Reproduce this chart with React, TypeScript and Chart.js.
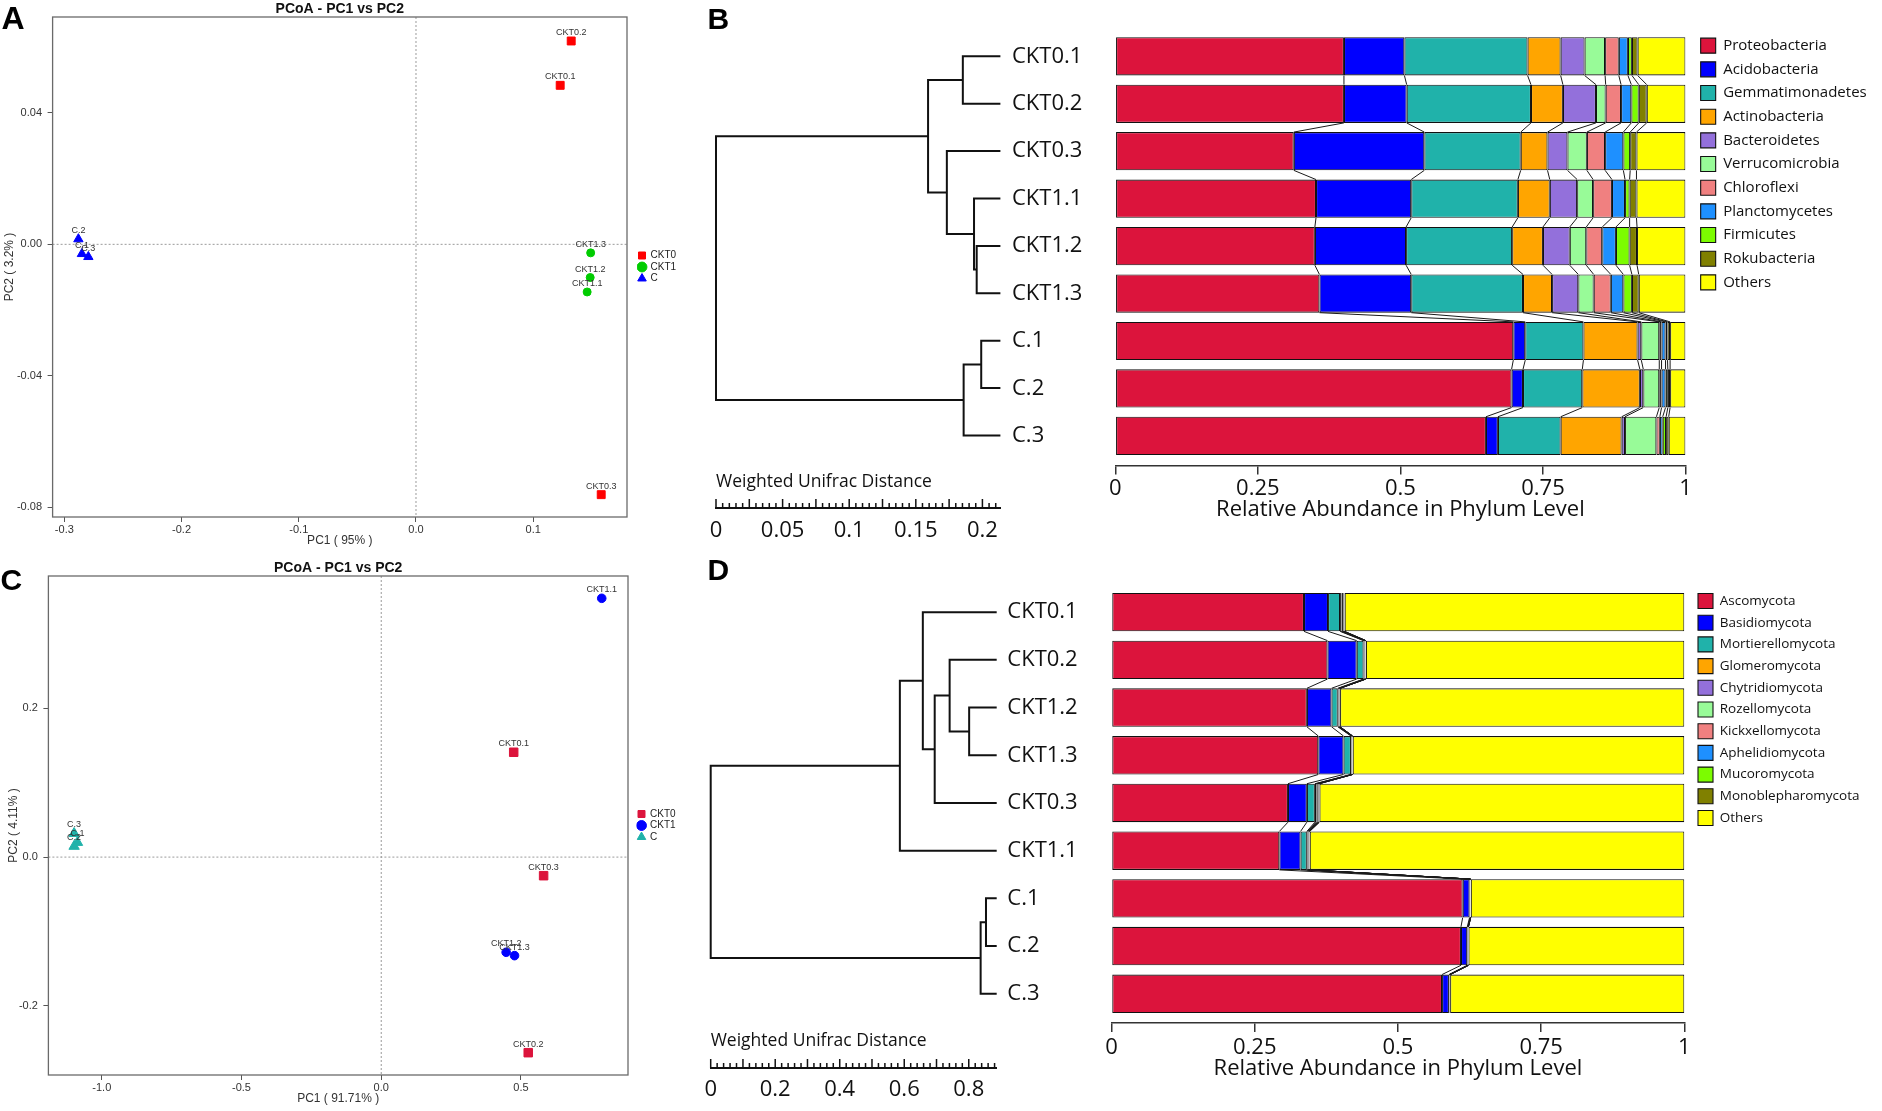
import React, { useEffect, useRef } from "react";
import { Chart, registerables } from "chart.js";

Chart.register(...registerables);

const SANS = "'Open Sans', 'DejaVu Sans', sans-serif";
const ARIAL = "'Liberation Sans', Arial, sans-serif";

// ================= Panel A : PCoA (bacteria) =================
const aGroups = ["CKT0", "CKT1", "C"];
const aColors = ["#ff0000", "#00cc00", "#0000ff"];
const aNamesCKT0 = ["CKT0.1", "CKT0.2", "CKT0.3"];
const aPc1CKT0 = [0.123, 0.1324, 0.158];
const aPc2CKT0 = [0.0484, 0.0619, -0.0762];
const aNamesCKT1 = ["CKT1.1", "CKT1.2", "CKT1.3"];
const aPc1CKT1 = [0.146, 0.1486, 0.149];
const aPc2CKT1 = [-0.0145, -0.0101, -0.0026];
const aNamesC = ["C.1", "C.2", "C.3"];
const aPc1C = [-0.285, -0.288, -0.2795];
const aPc2C = [-0.0029, 0.0016, -0.0038];
const aXTicks = [-0.3, -0.2, -0.1, 0, 0.1];
const aXTickLabels = ["-0.3", "-0.2", "-0.1", "0.0", "0.1"];
const aYTicks = [-0.08, -0.04, 0, 0.04];
const aYTickLabels = ["-0.08", "-0.04", "0.00", "0.04"];

// ================= Panel C : PCoA (fungi) =================
const cGroups = ["CKT0", "CKT1", "C"];
const cColors = ["#dc143c", "#0000ff", "#20b2aa"];
const cNamesCKT0 = ["CKT0.1", "CKT0.2", "CKT0.3"];
const cPc1CKT0 = [0.474, 0.526, 0.581];
const cPc2CKT0 = [0.141, -0.263, -0.025];
const cNamesCKT1 = ["CKT1.1", "CKT1.2", "CKT1.3"];
const cPc1CKT1 = [0.789, 0.447, 0.477];
const cPc2CKT1 = [0.348, -0.128, -0.1325];
const cNamesC = ["C.1", "C.2", "C.3"];
const cPc1C = [-1.087, -1.099, -1.099];
const cPc2C = [0.0198, 0.0145, 0.0318];
const cXTicks = [-1, -0.5, 0, 0.5];
const cXTickLabels = ["-1.0", "-0.5", "0.0", "0.5"];
const cYTicks = [-0.2, 0, 0.2];
const cYTickLabels = ["-0.2", "0.0", "0.2"];

// ================= Panel B : phylum bars (bacteria) =================
const samplesB = ["CKT0.1", "CKT0.2", "CKT0.3", "CKT1.1", "CKT1.2", "CKT1.3", "C.1", "C.2", "C.3"];
const phylaB = ["Proteobacteria", "Acidobacteria", "Gemmatimonadetes", "Actinobacteria", "Bacteroidetes", "Verrucomicrobia", "Chloroflexi", "Planctomycetes", "Firmicutes", "Rokubacteria", "Others"];
const bProteobacteria = [0.401, 0.401, 0.313, 0.352, 0.35, 0.358, 0.698, 0.695, 0.65];
const bAcidobacteria = [0.106, 0.11, 0.229, 0.167, 0.16, 0.161, 0.021, 0.02, 0.021];
const bGemmatimonadetes = [0.216, 0.218, 0.169, 0.187, 0.186, 0.196, 0.102, 0.104, 0.11];
const bActinobacteria = [0.058, 0.056, 0.047, 0.056, 0.054, 0.051, 0.095, 0.101, 0.107];
const bBacteroidetes = [0.042, 0.058, 0.035, 0.048, 0.047, 0.046, 0.0065, 0.006, 0.006];
const bVerrucomicrobia = [0.036, 0.017, 0.034, 0.028, 0.029, 0.027, 0.0315, 0.028, 0.055];
const bChloroflexi = [0.024, 0.027, 0.032, 0.033, 0.028, 0.03, 0.004, 0.004, 0.006];
const bPlanctomycetes = [0.016, 0.018, 0.032, 0.023, 0.024, 0.022, 0.007, 0.007, 0.005];
const bFirmicutes = [0.007, 0.013, 0.012, 0.008, 0.024, 0.015, 0.0035, 0.004, 0.006];
const bRokubacteria = [0.01, 0.014, 0.011, 0.012, 0.013, 0.012, 0.0045, 0.004, 0.0045];
const bOthers = [0.084, 0.068, 0.086, 0.086, 0.085, 0.082, 0.027, 0.027, 0.0295];

// ================= Panel D : phylum bars (fungi) =================
const samplesD = ["CKT0.1", "CKT0.2", "CKT1.2", "CKT1.3", "CKT0.3", "CKT1.1", "C.1", "C.2", "C.3"];
const phylaD = ["Ascomycota", "Basidiomycota", "Mortierellomycota", "Glomeromycota", "Chytridiomycota", "Rozellomycota", "Kickxellomycota", "Aphelidiomycota", "Mucoromycota", "Monoblepharomycota", "Others"];
const dAscomycota = [0.336, 0.377, 0.341, 0.361, 0.308, 0.293, 0.613, 0.61, 0.577];
const dBasidiomycota = [0.042, 0.051, 0.043, 0.044, 0.033, 0.037, 0.012, 0.011, 0.012];
const dMortierellomycota = [0.021, 0.012, 0.011, 0.013, 0.014, 0.011, 0.001, 0.001, 0.001];
const dGlomeromycota = [0.002, 0.001, 0.001, 0.001, 0.002, 0.001, 0.0003, 0.0003, 0.0003];
const dChytridiomycota = [0.001, 0.001, 0.001, 0.0005, 0.001, 0.001, 0.0002, 0.0002, 0.0002];
const dRozellomycota = [0.002, 0.001, 0.001, 0.0005, 0.002, 0.001, 0.0002, 0.0002, 0.0002];
const dKickxellomycota = [0.001, 0.0004, 0.0004, 0.0004, 0.001, 0.0005, 0.0001, 0.0001, 0.0001];
const dAphelidiomycota = [0.001, 0.0003, 0.0003, 0.0003, 0.001, 0.0005, 0.0001, 0.0001, 0.0001];
const dMucoromycota = [0.0005, 0.0002, 0.0002, 0.0002, 0.0005, 0.0005, 0.0001, 0.0001, 0.0001];
const dMonoblepharomycota = [0.0005, 0.0001, 0.0001, 0.0001, 0.0005, 0.0005, 0.0001, 0.0001, 0.0001];
const dOthers = [0.593, 0.556, 0.601, 0.579, 0.637, 0.654, 0.3729, 0.3769, 0.4089];

const phylumColors = ["#dc143c", "#0000ff", "#20b2aa", "#ffa500", "#9370db", "#98fb98", "#f08080", "#1e90ff", "#7cfc00", "#808000", "#ffff00"];
const abundTicks = [0, 0.25, 0.5, 0.75, 1];
const abundTickLabels = ["0", "0.25", "0.5", "0.75", "1"];

// ================= Dendrograms (Weighted Unifrac) =================
const treeBLeafEnd = 0.2135;
const treeBLeft = ["CKT0.1", "CKT1.2", "CKT1.1", "CKT0.3", "m0", "C.1", "m5", "m4"];
const treeBRight = ["CKT0.2", "CKT1.3", "m1", "m2", "m3", "C.2", "C.3", "m6"];
const treeBHeight = [0.1853, 0.1957, 0.1937, 0.1733, 0.1592, 0.1991, 0.1859, 0];
const treeBTicks = [0, 0.05, 0.1, 0.15, 0.2];
const treeBTickLabels = ["0", "0.05", "0.1", "0.15", "0.2"];

const treeDLeafEnd = 0.8866;
const treeDLeft = ["CKT1.2", "CKT0.2", "m1", "CKT0.1", "m3", "C.1", "m5", "m4"];
const treeDRight = ["CKT1.3", "m0", "CKT0.3", "m2", "CKT1.1", "C.2", "C.3", "m6"];
const treeDHeight = [0.8012, 0.7407, 0.6944, 0.6576, 0.5864, 0.8534, 0.8368, 0];
const treeDTicks = [0, 0.2, 0.4, 0.6, 0.8];
const treeDTickLabels = ["0", "0.2", "0.4", "0.6", "0.8"];

// ================= plugins =================
const framePlugin = {
  id: "pcoaFrame",
  beforeDatasetsDraw(chart: any) {
    const { ctx, chartArea: a, scales } = chart;
    const x0 = scales.x.getPixelForValue(0);
    const y0 = scales.y.getPixelForValue(0);
    ctx.save();
    ctx.strokeStyle = "#9a9a9a";
    ctx.lineWidth = 1;
    ctx.setLineDash([2, 2]);
    ctx.beginPath();
    ctx.moveTo(x0, a.top);
    ctx.lineTo(x0, a.bottom);
    ctx.moveTo(a.left, y0);
    ctx.lineTo(a.right, y0);
    ctx.stroke();
    ctx.setLineDash([]);
    ctx.strokeStyle = "#6a6a6a";
    ctx.lineWidth = 1.3;
    ctx.strokeRect(a.left, a.top, a.right - a.left, a.bottom - a.top);
    ctx.restore();
  },
};

const pointNamePlugin = {
  id: "pointNames",
  afterDatasetsDraw(chart: any) {
    const ctx = chart.ctx;
    ctx.save();
    ctx.font = `9px ${ARIAL}`;
    ctx.fillStyle = "#333";
    ctx.textAlign = "center";
    ctx.textBaseline = "alphabetic";
    chart.data.datasets.forEach((ds: any, d: number) => {
      chart.getDatasetMeta(d).data.forEach((el: any, i: number) => {
        ctx.fillText(ds.names[i], el.x, el.y - 6);
      });
    });
    ctx.restore();
  },
};

const ribbonPlugin = {
  id: "ribbons",
  afterDatasetsDraw(chart: any) {
    const ctx = chart.ctx;
    const n = chart.data.datasets.length;
    ctx.save();
    ctx.strokeStyle = "#1a1a1a";
    ctx.lineWidth = 1;
    ctx.beginPath();
    for (let k = 0; k < n - 1; k++) {
      const els = chart.getDatasetMeta(k).data;
      for (let i = 0; i < els.length - 1; i++) {
        const a = els[i];
        const b = els[i + 1];
        ctx.moveTo(a.x, a.y + a.height / 2);
        ctx.lineTo(b.x, b.y - b.height / 2);
      }
    }
    ctx.stroke();
    ctx.restore();
  },
};

function legendWidthPlugin(w: number) {
  return {
    id: "legendWidth",
    beforeLayout(chart: any) {
      const lg = chart.legend;
      if (lg && !lg.__fixedWidth) {
        const orig = lg.fit.bind(lg);
        lg.fit = () => {
          orig();
          lg.width = w;
        };
        lg.__fixedWidth = true;
      }
    },
  };
}

function makeRuler(minorStep: number, majorEvery: number, end: number, title: string, titleOffset: number) {
  return {
    id: "ruler",
    afterDraw(chart: any) {
      const { ctx, chartArea, scales } = chart;
      const base = chartArea.bottom;
      ctx.save();
      ctx.strokeStyle = "#111";
      ctx.lineWidth = 1.5;
      const n = Math.round(end / minorStep);
      ctx.beginPath();
      for (let i = 0; i <= n; i++) {
        const px = scales.x.getPixelForValue(i * minorStep);
        const len = i % majorEvery === 0 ? 9 : 5;
        ctx.moveTo(px, base);
        ctx.lineTo(px, base - len);
      }
      ctx.stroke();
      ctx.fillStyle = "#111";
      ctx.font = `17.5px ${SANS}`;
      ctx.textAlign = "left";
      ctx.textBaseline = "middle";
      ctx.fillText(title, chartArea.left, base - titleOffset);
      ctx.restore();
    },
  };
}

// ================= config builders =================
function scatterConfig(s: any) {
  return {
    type: "scatter",
    data: {
      datasets: s.groups.map((g: string, k: number) => ({
        label: g,
        names: s.names[k],
        data: s.xs[k].map((x: number, i: number) => ({ x, y: s.ys[k][i] })),
        pointStyle: s.styles[k],
        pointRadius: s.radii[k],
        pointHoverRadius: s.radii[k],
        backgroundColor: s.colors[k],
        borderColor: s.colors[k],
        borderWidth: 1,
        xAxisID: "x",
        yAxisID: "y",
      })),
    },
    plugins: [framePlugin, pointNamePlugin],
    options: {
      animation: false,
      responsive: false,
      events: [],
      layout: { padding: { left: 0, top: 0, right: s.padRight, bottom: s.padBottom } },
      plugins: {
        tooltip: { enabled: false },
        title: {
          display: true,
          text: "PCoA - PC1 vs PC2",
          fullSize: false,
          color: "#111",
          font: { family: ARIAL, size: 14, weight: "bold", lineHeight: 15 / 14 },
          padding: { top: s.titlePadTop, bottom: 0 },
        },
        legend: {
          position: "right",
          align: "center",
          fullSize: false,
          maxWidth: 45,
          labels: {
            usePointStyle: true,
            boxWidth: 7,
            boxHeight: 7,
            padding: 1.5,
            color: "#222",
            font: { family: ARIAL, size: 10 },
          },
        },
      },
      scales: {
        x: {
          type: "linear",
          min: s.xMin,
          max: s.xMax,
          afterBuildTicks: (sc: any) => {
            sc.ticks = s.xTicks.map((v: number) => ({ value: v }));
          },
          ticks: {
            callback: (_v: any, i: number) => s.xTickLabels[i],
            font: { family: ARIAL, size: 11 },
            color: "#333",
            padding: s.xTickPad,
            maxRotation: 0,
            autoSkip: false,
          },
          grid: { display: true, drawOnChartArea: false, drawTicks: true, tickLength: 5, color: "#555", lineWidth: 1 },
          border: { display: false },
          title: { display: true, text: s.xTitle, color: "#333", font: { family: ARIAL, size: 12 }, padding: { top: 0, bottom: 0 } },
          afterFit: (sc: any) => {
            sc.height = s.xHeight;
          },
        },
        y: {
          type: "linear",
          min: s.yMin,
          max: s.yMax,
          afterBuildTicks: (sc: any) => {
            sc.ticks = s.yTicks.map((v: number) => ({ value: v }));
          },
          ticks: {
            callback: (_v: any, i: number) => s.yTickLabels[i],
            font: { family: ARIAL, size: 11 },
            color: "#333",
            padding: s.yTickPad,
            autoSkip: false,
          },
          grid: { display: true, drawOnChartArea: false, drawTicks: true, tickLength: 5, color: "#555", lineWidth: 1 },
          border: { display: false },
          title: { display: true, text: s.yTitle, color: "#333", font: { family: ARIAL, size: 12 }, padding: { top: s.yTitlePad, bottom: 0 } },
          afterFit: (sc: any) => {
            sc.width = s.yWidth;
          },
        },
        spacer: {
          type: "linear",
          axis: "y",
          position: "right",
          display: true,
          grid: { display: false, drawTicks: false },
          border: { display: false },
          ticks: { display: false },
          afterFit: (sc: any) => {
            sc.width = s.spacer;
          },
        },
      },
    },
  };
}

function barConfig(s: any) {
  return {
    type: "bar",
    data: {
      datasets: s.names.map((name: string, k: number) => ({
        label: name,
        data: s.series[k].map((v: number, i: number) => ({ x: v, y: i })),
        backgroundColor: phylumColors[k],
        borderColor: "#111",
        borderWidth: 1.1,
        borderSkipped: false,
        barPercentage: 0.806,
        categoryPercentage: 1,
        xAxisID: "x",
        yAxisID: "y",
      })),
    },
    plugins: [ribbonPlugin, legendWidthPlugin(s.legendWidth)],
    options: {
      indexAxis: "y",
      animation: false,
      responsive: false,
      events: [],
      layout: { padding: s.padding },
      plugins: {
        tooltip: { enabled: false },
        legend: {
          position: "right",
          align: "start",
          labels: {
            boxWidth: 15,
            boxHeight: 15,
            padding: s.legendPad,
            color: "#111",
            font: { family: SANS, size: s.legendFont },
          },
        },
      },
      scales: {
        x: {
          type: "linear",
          min: 0,
          max: 1,
          stacked: true,
          afterBuildTicks: (sc: any) => {
            sc.ticks = abundTicks.map((v) => ({ value: v }));
          },
          ticks: {
            callback: (_v: any, i: number) => abundTickLabels[i],
            font: { family: SANS, size: 22 },
            color: "#111",
            padding: s.xTickPad,
            maxRotation: 0,
            autoSkip: false,
          },
          grid: { display: true, drawOnChartArea: false, drawTicks: true, tickLength: 9, color: "#333", lineWidth: 1.5 },
          border: { display: true, color: "#333", width: 1.5 },
          title: {
            display: true,
            text: "Relative Abundance in Phylum Level",
            color: "#111",
            font: { family: SANS, size: 22, lineHeight: 1 },
            padding: { top: 0, bottom: 0 },
          },
          afterFit: (sc: any) => {
            sc.height = s.xHeight;
          },
        },
        y: {
          type: "linear",
          min: s.yMin,
          max: s.yMax,
          reverse: true,
          stacked: true,
          offset: false,
          afterBuildTicks: (sc: any) => {
            sc.ticks = s.samples.map((_n: string, i: number) => ({ value: i }));
          },
          ticks: {
            callback: (_v: any, i: number) => s.samples[i],
            crossAlign: "far",
            font: { family: SANS, size: 22 },
            color: "#111",
            padding: 0,
            autoSkip: false,
          },
          grid: { display: false, offset: false },
          border: { display: false },
          afterFit: (sc: any) => {
            sc.width = s.yWidth;
          },
        },
        spacer: {
          type: "linear",
          axis: "y",
          position: "right",
          display: true,
          grid: { display: false, drawTicks: false },
          border: { display: false },
          ticks: { display: false },
          afterFit: (sc: any) => {
            sc.width = s.spacer;
          },
        },
      },
    },
  };
}

function dendroDatasets(samples: string[], left: string[], right: string[], heights: number[], leafEnd: number) {
  const pos: Record<string, { x: number; y: number }> = {};
  samples.forEach((name, i) => {
    pos[name] = { x: leafEnd, y: i };
  });
  return heights.map((h, k) => {
    const a = pos[left[k]];
    const b = pos[right[k]];
    pos["m" + k] = { x: h, y: (a.y + b.y) / 2 };
    return {
      data: [
        { x: a.x, y: a.y },
        { x: h, y: a.y },
        { x: h, y: b.y },
        { x: b.x, y: b.y },
      ],
      showLine: true,
      borderColor: "#111",
      borderWidth: 2,
      pointRadius: 0,
      tension: 0,
      fill: false,
      clip: false,
    };
  });
}

function dendroConfig(s: any) {
  return {
    type: "scatter",
    data: { datasets: dendroDatasets(s.samples, s.left, s.right, s.heights, s.leafEnd) },
    plugins: [makeRuler(s.minorStep, s.majorEvery, s.rulerEnd, "Weighted Unifrac Distance", s.titleOffset)],
    options: {
      animation: false,
      responsive: false,
      events: [],
      layout: { padding: s.padding },
      plugins: { legend: { display: false }, tooltip: { enabled: false }, title: { display: false } },
      scales: {
        x: {
          type: "linear",
          min: 0,
          max: s.leafEnd,
          afterBuildTicks: (sc: any) => {
            sc.ticks = s.ticks.map((v: number) => ({ value: v }));
          },
          ticks: {
            callback: (_v: any, i: number) => s.tickLabels[i],
            font: { family: SANS, size: 22 },
            color: "#111",
            padding: s.tickPad,
            maxRotation: 0,
            autoSkip: false,
          },
          grid: { display: false },
          border: { display: true, color: "#111", width: 2 },
          afterFit: (sc: any) => {
            sc.height = 30;
          },
        },
        y: { type: "linear", display: false, min: s.yMin, max: s.yMax, reverse: true },
      },
    },
  };
}

// ================= components =================
function ChartBox({ left, top, width, height, make }: any) {
  const ref = useRef<HTMLCanvasElement>(null);
  useEffect(() => {
    const chart = new Chart(ref.current as HTMLCanvasElement, make());
    return () => chart.destroy();
  }, []);
  return (
    <div style={{ position: "absolute", left, top, width, height }}>
      <canvas ref={ref} width={width} height={height} style={{ width, height, display: "block" }} />
    </div>
  );
}

function Letter({ text, left, top, size }: any) {
  return (
    <div
      style={{
        position: "absolute",
        left,
        top,
        fontFamily: ARIAL,
        fontWeight: "bold",
        fontSize: size,
        lineHeight: `${size}px`,
        color: "#000",
      }}
    >
      {text}
    </div>
  );
}

export default function App() {
  const makeA = () =>
    scatterConfig({
      groups: aGroups,
      colors: aColors,
      styles: ["rect", "circle", "triangle"],
      radii: [5.6, 4, 5.4],
      names: [aNamesCKT0, aNamesCKT1, aNamesC],
      xs: [aPc1CKT0, aPc1CKT1, aPc1C],
      ys: [aPc2CKT0, aPc2CKT1, aPc2C],
      xMin: -0.31,
      xMax: 0.18,
      yMin: -0.083,
      yMax: 0.0692,
      xTicks: aXTicks,
      xTickLabels: aXTickLabels,
      yTicks: aYTicks,
      yTickLabels: aYTickLabels,
      xTitle: "PC1 ( 95% )",
      yTitle: "PC2 ( 3.2% )",
      titlePadTop: 2,
      yWidth: 52.6,
      yTitlePad: 2.3,
      yTickPad: 5.6,
      xHeight: 31.2,
      xTickPad: 1.8,
      padRight: 18,
      padBottom: 1.8,
      spacer: 10,
    });
  const makeC = () =>
    scatterConfig({
      groups: cGroups,
      colors: cColors,
      styles: ["rect", "circle", "triangle"],
      radii: [6, 4.3, 6],
      names: [cNamesCKT0, cNamesCKT1, cNamesC],
      xs: [cPc1CKT0, cPc1CKT1, cPc1C],
      ys: [cPc2CKT0, cPc2CKT1, cPc2C],
      xMin: -1.191,
      xMax: 0.883,
      yMin: -0.293,
      yMax: 0.378,
      xTicks: cXTicks,
      xTickLabels: cXTickLabels,
      yTicks: cYTicks,
      yTickLabels: cYTickLabels,
      xTitle: "PC1 ( 91.71% )",
      yTitle: "PC2 ( 4.11% )",
      titlePadTop: 6,
      yWidth: 48.4,
      yTitlePad: 6.1,
      yTickPad: 5.5,
      xHeight: 30.7,
      xTickPad: 1.1,
      padRight: 18.5,
      padBottom: 1.3,
      spacer: 8.5,
    });
  const makeBars = () =>
    barConfig({
      samples: samplesB,
      names: phylaB,
      series: [bProteobacteria, bAcidobacteria, bGemmatimonadetes, bActinobacteria, bBacteroidetes, bVerrucomicrobia, bChloroflexi, bPlanctomycetes, bFirmicutes, bRokubacteria, bOthers],
      padding: { left: 12, top: 29.5, right: 5, bottom: 0 },
      yMin: -0.5654,
      yMax: 8.622,
      yWidth: 103.3,
      xHeight: 55.6,
      xTickPad: 1.4,
      spacer: 6.5,
      legendWidth: 185,
      legendPad: 8.67,
      legendFont: 15,
    });
  const makeBarsD = () =>
    barConfig({
      samples: samplesD,
      names: phylaD,
      series: [dAscomycota, dBasidiomycota, dMortierellomycota, dGlomeromycota, dChytridiomycota, dRozellomycota, dKickxellomycota, dAphelidiomycota, dMucoromycota, dMonoblepharomycota, dOthers],
      padding: { left: 12.3, top: 36.8, right: 5.7, bottom: 0.2 },
      yMin: -0.5314,
      yMax: 8.613,
      yWidth: 104.2,
      xHeight: 56.8,
      xTickPad: 2.8,
      spacer: 6.9,
      legendWidth: 185,
      legendPad: 6.7,
      legendFont: 13.5,
    });
  const makeTreeB = () =>
    dendroConfig({
      samples: samplesB,
      left: treeBLeft,
      right: treeBRight,
      heights: treeBHeight,
      leafEnd: treeBLeafEnd,
      ticks: treeBTicks,
      tickLabels: treeBTickLabels,
      minorStep: 0.005,
      majorEvery: 5,
      rulerEnd: 0.21,
      titleOffset: 26,
      padding: { left: 16, right: 11.6, top: 29.5, bottom: 2 },
      yMin: -0.5654,
      yMax: 9.529,
      tickPad: 2,
    });
  const makeTreeD = () =>
    dendroConfig({
      samples: samplesD,
      left: treeDLeft,
      right: treeDRight,
      heights: treeDHeight,
      leafEnd: treeDLeafEnd,
      ticks: treeDTicks,
      tickLabels: treeDTickLabels,
      minorStep: 0.02,
      majorEvery: 5,
      rulerEnd: 0.88,
      titleOffset: 27,
      padding: { left: 15.7, right: 10.3, top: 36.8, bottom: 2 },
      yMin: -0.5314,
      yMax: 9.557,
      tickPad: 0.8,
    });

  return (
    <div style={{ position: "absolute", left: 0, top: 0, width: 1882, height: 1111, background: "#fff", overflow: "hidden" }}>
      <ChartBox left={0} top={0} width={700} height={550} make={makeA} />
      <ChartBox left={0} top={555} width={700} height={552} make={makeC} />
      <ChartBox left={700} top={0} width={312} height={540} make={makeTreeB} />
      <ChartBox left={695} top={550} width={312} height={550} make={makeTreeD} />
      <ChartBox left={1000} top={0} width={882} height={521} make={makeBars} />
      <ChartBox left={995} top={550} width={887} height={530} make={makeBarsD} />
      <Letter text="A" left={1.5} top={1.5} size={32} />
      <Letter text="B" left={707.5} top={3.9} size={30} />
      <Letter text="C" left={0.5} top={564.6} size={30} />
      <Letter text="D" left={707.5} top={555} size={30} />
    </div>
  );
}
